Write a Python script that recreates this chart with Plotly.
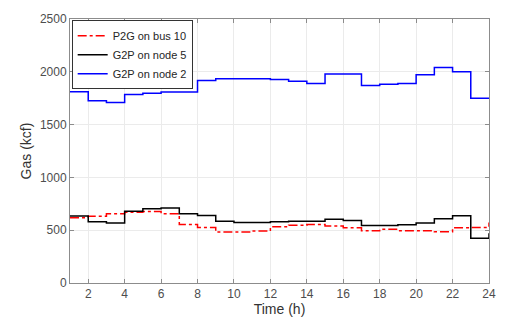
import plotly.graph_objects as go

hours = list(range(1, 25))
p2g_bus10 = [619, 631, 656, 671, 677, 656, 554, 526, 483, 483, 492, 532,
             548, 554, 539, 523, 495, 508, 495, 495, 486, 523, 526, 572]
g2p_node5 = [634, 579, 569, 680, 702, 711, 656, 640, 585, 572, 572, 580,
             585, 585, 603, 591, 545, 545, 551, 569, 609, 637, 424, 470]
g2p_node2 = [1812, 1725, 1710, 1784, 1796, 1808, 1808, 1917, 1935, 1935, 1935, 1926,
             1910, 1889, 1978, 1978, 1870, 1882, 1889, 1972, 2040, 2000, 1750, 1750]
x_ticks = list(range(2, 25, 2))
y_ticks = list(range(0, 2501, 500))

fig = go.Figure()
fig.add_trace(go.Scatter(x=hours, y=p2g_bus10, mode="lines", name="P2G on bus 10",
                         line=dict(color="#ff0000", width=1.5, dash="dashdot", shape="hv")))
fig.add_trace(go.Scatter(x=hours, y=g2p_node5, mode="lines", name="G2P on node 5",
                         line=dict(color="#000000", width=1.5, shape="hv")))
fig.add_trace(go.Scatter(x=hours, y=g2p_node2, mode="lines", name="G2P on node 2",
                         line=dict(color="#0000ff", width=1.5, shape="hv")))

axis_common = dict(showline=True, mirror="ticks", linecolor="#8c8c8c", linewidth=1,
                   ticks="inside", ticklen=4, tickcolor="#8c8c8c",
                   showgrid=True, gridcolor="#ebebeb", gridwidth=1, zeroline=False,
                   tickfont=dict(family="Liberation Sans, Arial", size=12, color="#4d4d4d"))

fig.update_layout(
    width=508, height=326,
    margin=dict(l=70, r=16, t=13, b=43),
    paper_bgcolor="white", plot_bgcolor="white",
    font=dict(family="Liberation Sans, Arial", size=12, color="#4d4d4d"),
    xaxis=dict(range=[1, 24], tickvals=x_ticks,
               title=dict(text="Time (h)", font=dict(size=14, color="#333333"), standoff=3),
               **axis_common),
    yaxis=dict(range=[0, 2500], tickvals=y_ticks,
               title=dict(text="Gas (kcf)", font=dict(size=14, color="#333333"), standoff=4),
               **axis_common),
    legend=dict(x=0.004, y=0.995, xanchor="left", yanchor="top",
                bgcolor="white", bordercolor="#333333", borderwidth=1,
                font=dict(size=11, color="#262626"), tracegroupgap=0,
                itemwidth=30),
    showlegend=True,
)

fig.write_html("out.html", config={"displayModeBar": False},
               post_script="document.body.style.margin='0';")
